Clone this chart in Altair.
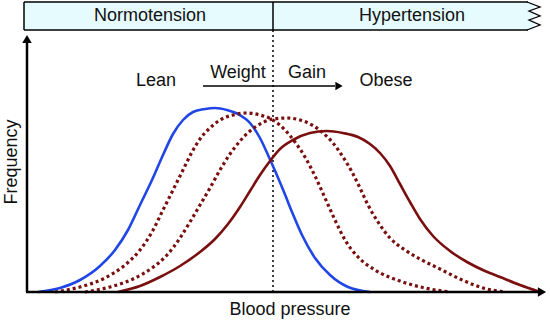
import altair as alt
import pandas as pd

# Curves: blood pressure (arbitrary units) vs frequency (arbitrary units)
lean_bp = [11, 33, 53, 73, 88, 101, 113, 125, 136, 146, 156, 166, 178, 188, 200, 211, 223, 233, 241, 249, 257, 265, 275, 288, 303, 321, 343]
lean_fr = [0, 4, 12, 26, 42, 62, 87, 112, 137, 158, 172, 180, 183, 184, 182, 178, 169, 154, 137, 119, 100, 80, 57, 34, 17, 5, 0]

mid1_bp = [28, 53, 78, 98, 113, 125, 136, 146, 156, 165, 173, 183, 193, 206, 220, 233, 246, 258, 268, 278, 288, 298, 308, 318, 331, 348, 373, 398, 423]
mid1_fr = [0, 5, 14, 27, 42, 60, 82, 102, 122, 140, 153, 164, 172, 177, 179, 177, 172, 162, 150, 135, 116, 94, 72, 52, 35, 22, 11, 4, 0]

mid2_bp = [58, 83, 106, 125, 140, 153, 163, 173, 183, 193, 203, 213, 223, 235, 246, 260, 273, 285, 296, 306, 316, 325, 333, 341, 351, 363, 378, 393, 413, 433, 456, 478]
mid2_fr = [0, 5, 13, 24, 37, 54, 70, 87, 104, 122, 138, 151, 161, 169, 173, 174, 172, 167, 159, 149, 135, 120, 104, 87, 70, 54, 42, 33, 23, 13, 4, 0]

obese_bp = [91, 113, 133, 153, 173, 188, 201, 213, 223, 233, 243, 253, 266, 283, 300, 316, 331, 343, 353, 363, 373, 383, 393, 406, 423, 440, 458, 473, 493, 513]
obese_fr = [0, 6, 15, 26, 40, 53, 68, 85, 101, 117, 131, 143, 152, 159, 161, 159, 155, 148, 139, 126, 108, 90, 73, 56, 41, 30, 21, 15, 7, 0]

band_labels = ["Normotension", "Hypertension"]
state_labels = ["Lean", "Weight", "Gain", "Obese"]
x_title = "Blood pressure"
y_title = "Frequency"

rows = []
for name, xs_, ys_ in [("lean", lean_bp, lean_fr), ("mid1", mid1_bp, mid1_fr),
                       ("mid2", mid2_bp, mid2_fr), ("obese", obese_bp, obese_fr)]:
    for i, (a, b) in enumerate(zip(xs_, ys_)):
        rows.append({"series": name, "bp": a, "freq": b, "i": i})
df = pd.DataFrame(rows)

FONT = "Liberation Sans"
BLUE = "#2146e6"
RED = "#7a0f0f"

xs = alt.Scale(domain=[-27, 523], nice=False, zero=False)
ys = alt.Scale(domain=[-32, 292], nice=False, zero=False)
X = alt.X("bp:Q", scale=xs, axis=None)
Y = alt.Y("freq:Q", scale=ys, axis=None)

one = alt.Data(values=[{"a": 1}])

def curve(name, color, dash=None, width=2.6):
    kw = dict(color=color, strokeWidth=width, interpolate="monotone")
    if dash:
        kw["strokeDash"] = dash
        kw["strokeCap"] = "butt"
    return alt.Chart(df).transform_filter(alt.datum.series == name).mark_line(**kw).encode(
        x=X, y=Y, order="i:Q")

def rule(x, y, x2=None, y2=None, width=1.5, dash=None, color="black"):
    kw = dict(color=color, strokeWidth=width)
    if dash:
        kw["strokeDash"] = dash
    enc = dict(x=alt.value(x), y=alt.value(y))
    if x2 is not None:
        enc["x2"] = alt.value(x2)
    if y2 is not None:
        enc["y2"] = alt.value(y2)
    return alt.Chart(one).mark_rule(**kw).encode(**enc)

def text(t, x, y, size=18, angle=0):
    kw = dict(text=t, font=FONT, fontSize=size, color="#111", align="center", baseline="middle")
    if angle:
        kw["angle"] = angle
    return alt.Chart(one).mark_text(**kw).encode(x=alt.value(x), y=alt.value(y))

def head(shape, x, y, size=90):
    return alt.Chart(one).mark_point(shape=shape, filled=True, color="black", opacity=1, size=size,
                                     strokeWidth=0).encode(x=alt.value(x), y=alt.value(y))

band = alt.Chart(one).mark_rect(color="#e6fbfd").encode(
    x=alt.value(24), x2=alt.value(534), y=alt.value(2), y2=alt.value(30))

zig = pd.DataFrame({"zx": [527, 540, 529, 540, 529, 540, 527],
                    "zy": [2, 7, 11, 16, 20, 25, 30], "k": list(range(7))})
zigzag = alt.Chart(zig).mark_line(color="black", strokeWidth=1.3).encode(
    x=alt.X("zx:Q", scale=None), y=alt.Y("zy:Q", scale=None), order="k:Q")

layers = [
    band,
    rule(24, 2, x2=528), rule(24, 30, x2=528), rule(24, 2, y2=30), rule(273, 2, y2=30),
    zigzag,
    text(band_labels[0], 150, 16), text(band_labels[1], 412, 16),
    rule(273, 30, y2=292, width=1.5, dash=[2, 3]),
    curve("lean", BLUE),
    curve("mid1", RED, dash=[3, 3], width=3.2),
    curve("mid2", RED, dash=[3, 3], width=3.2),
    curve("obese", RED),
    rule(27, 292, y2=42, width=2.5), head("triangle-up", 27, 39),
    rule(26, 292, x2=538, width=2.5), head("triangle-right", 542, 292),
    rule(203, 86, x2=335, width=1.5), head("triangle-right", 339, 86, size=70),
    text(state_labels[0], 156, 81), text(state_labels[1], 238, 73),
    text(state_labels[2], 307, 73), text(state_labels[3], 386, 81),
    text(x_title, 290, 310), text(y_title, 12, 162, angle=270),
]

chart = alt.layer(*layers).properties(
    width=550, height=324, padding=0, autosize="none"
).configure_view(stroke=None)

chart.save("out.html", embed_options={"renderer": "svg", "actions": False})
